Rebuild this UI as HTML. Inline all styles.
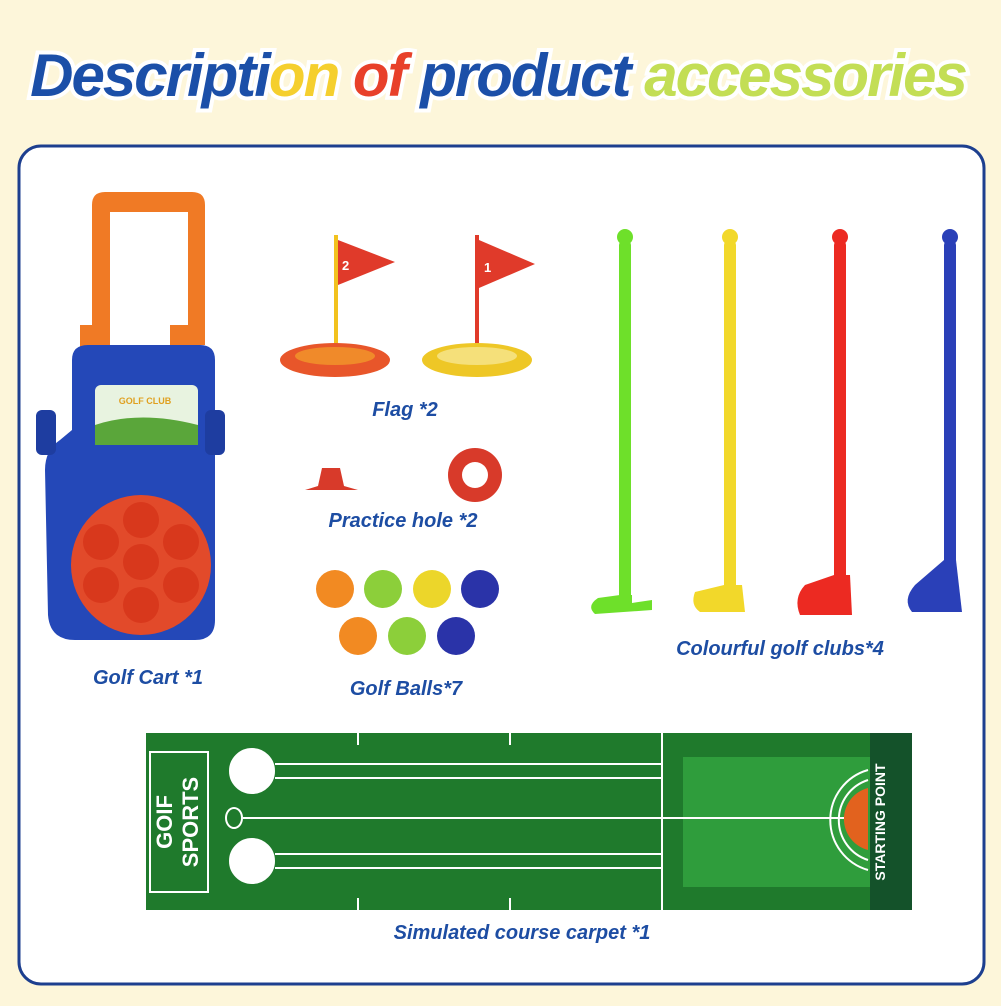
<!DOCTYPE html>
<html><head><meta charset="utf-8"><style>
body{margin:0;width:1001px;height:1001px;background:#fdf6da;overflow:hidden;font-family:"Liberation Sans",sans-serif}
</style></head><body>
<svg width="1001" height="1001" viewBox="0 0 1001 1001" xmlns="http://www.w3.org/2000/svg">
<rect width="1001" height="1001" fill="#fdf6da"/>
<text x="498" y="96" text-anchor="middle" font-family="Liberation Sans" font-weight="bold" font-style="italic" font-size="60" stroke="#fff" stroke-width="8" paint-order="stroke" letter-spacing="-2"><tspan fill="#1b4fa8">Descripti</tspan><tspan fill="#f5cf2e">on</tspan><tspan fill="#e8402a"> of</tspan><tspan fill="#1b4fa8"> product</tspan><tspan fill="#c3de55"> accessories</tspan></text>
<rect x="19" y="146" width="965" height="838" rx="22" fill="#fff" stroke="#1d3f8f" stroke-width="3"/>
<!-- cart -->
<path d="M92 345 V205 Q92 192 105 192 H192 Q205 192 205 205 V345 H188 V212 H110 V345Z" fill="#f07a25"/>
<rect x="80" y="325" width="30" height="25" fill="#f07a25"/><rect x="170" y="325" width="30" height="25" fill="#f07a25"/>
<path d="M72 360 Q72 345 88 345 H200 Q215 345 215 360 V620 Q215 640 195 640 H75 Q50 640 48 615 L45 470 Q45 450 60 440 L72 430Z" fill="#2448b8"/>
<rect x="36" y="410" width="20" height="45" rx="6" fill="#1e3da0"/>
<rect x="205" y="410" width="20" height="45" rx="6" fill="#1e3da0"/>
<rect x="95" y="385" width="103" height="60" rx="6" fill="#e8f3e0"/>
<path d="M95 425 Q140 410 198 425 V445 H95Z" fill="#5aa63a"/>
<text x="145" y="404" text-anchor="middle" font-size="9" font-weight="bold" fill="#e0a020">GOLF CLUB</text>
<circle cx="141" cy="565" r="70" fill="#e24a2a"/>
<g fill="#d8381c"><circle cx="141" cy="520" r="18"/><circle cx="181" cy="542" r="18"/><circle cx="181" cy="585" r="18"/><circle cx="141" cy="605" r="18"/><circle cx="101" cy="585" r="18"/><circle cx="101" cy="542" r="18"/><circle cx="141" cy="562" r="18"/></g>
<!-- flags -->
<rect x="334" y="235" width="4" height="115" fill="#f2c21e"/>
<path d="M338 240 L395 262 L338 285Z" fill="#e03a2a"/><text x="342" y="270" font-size="13" font-weight="bold" fill="#fff">2</text>
<ellipse cx="335" cy="360" rx="55" ry="17" fill="#e8562a"/><ellipse cx="335" cy="356" rx="40" ry="9" fill="#f08a2a"/>
<rect x="475" y="235" width="4" height="115" fill="#e03a2a"/>
<path d="M479 240 L535 264 L479 288Z" fill="#e03a2a"/><text x="484" y="272" font-size="13" font-weight="bold" fill="#fff">1</text>
<ellipse cx="477" cy="360" rx="55" ry="17" fill="#eec726"/><ellipse cx="477" cy="356" rx="40" ry="9" fill="#f5e07a"/>
<!-- practice hole -->
<path d="M322 468 H340 L344 486 L358 490 H305 L318 486Z" fill="#d83a2a"/>
<circle cx="475" cy="475" r="27" fill="#d83a2a"/><circle cx="475" cy="475" r="13" fill="#fff"/>
<!-- balls -->
<g><circle cx="335" cy="589" r="19" fill="#f28a22"/><circle cx="383" cy="589" r="19" fill="#8ccf3a"/><circle cx="432" cy="589" r="19" fill="#ecd62a"/><circle cx="480" cy="589" r="19" fill="#2a33a8"/>
<circle cx="358" cy="636" r="19" fill="#f28a22"/><circle cx="407" cy="636" r="19" fill="#8ccf3a"/><circle cx="456" cy="636" r="19" fill="#2a33a8"/></g>
<!-- clubs -->
<rect x="619" y="240" width="12" height="360" rx="5" fill="#6ee02a"/><circle cx="625" cy="237" r="8" fill="#6ee02a"/>
<path d="M620 595 L632 595 L632 603 L652 600 L652 610 L595 614 Q586 606 598 598Z" fill="#6ee02a"/>
<rect x="724" y="240" width="12" height="350" rx="5" fill="#f2d82a"/><circle cx="730" cy="237" r="8" fill="#f2d82a"/>
<path d="M724 585 H742 L745 612 H700 Q690 605 695 592Z" fill="#f2d82a"/>
<rect x="834" y="240" width="12" height="345" rx="5" fill="#ec2a22"/><circle cx="840" cy="237" r="8" fill="#ec2a22"/>
<path d="M834 575 H850 L852 615 H800 Q793 598 805 585Z" fill="#ec2a22"/>
<rect x="944" y="240" width="12" height="340" rx="5" fill="#2a40b8"/><circle cx="950" cy="237" r="8" fill="#2a40b8"/>
<path d="M944 560 H956 L962 612 H912 Q902 600 915 585Z" fill="#2a40b8"/>
<!-- carpet -->
<rect x="146" y="733" width="766" height="177" fill="#1f7a2c"/>
<rect x="683" y="757" width="187" height="130" fill="#2f9d3c"/>
<rect x="870" y="733" width="42" height="177" fill="#14522a"/>
<rect x="150" y="752" width="58" height="140" fill="none" stroke="#fff" stroke-width="2"/>
<text transform="translate(172 822) rotate(-90)" text-anchor="middle" font-size="22" font-weight="bold" fill="#fff">GOIF</text>
<text transform="translate(198 822) rotate(-90)" text-anchor="middle" font-size="22" font-weight="bold" fill="#fff">SPORTS</text>
<g stroke="#fff" stroke-width="2" fill="none">
<circle cx="252" cy="771" r="22" fill="#fff"/><circle cx="252" cy="861" r="22" fill="#fff"/>
<line x1="275" y1="764" x2="662" y2="764"/><line x1="275" y1="778" x2="662" y2="778"/>
<line x1="275" y1="854" x2="662" y2="854"/><line x1="275" y1="868" x2="662" y2="868"/>
<line x1="662" y1="760" x2="662" y2="782"/><line x1="662" y1="850" x2="662" y2="872"/>
<line x1="243" y1="818" x2="860" y2="818"/><ellipse cx="234" cy="818" rx="8" ry="10"/>
<line x1="358" y1="733" x2="358" y2="745"/><line x1="510" y1="733" x2="510" y2="745"/><line x1="662" y1="733" x2="662" y2="910"/>
<line x1="358" y1="898" x2="358" y2="910"/><line x1="510" y1="898" x2="510" y2="910"/>
<path d="M868 780 A42 42 0 0 0 868 860"/><path d="M868 770 A52 52 0 0 0 868 870"/>
</g>
<path d="M868 788 A32 32 0 0 0 868 850Z" fill="#e2621e"/>
<text transform="translate(885 822) rotate(-90)" text-anchor="middle" font-size="14" font-weight="bold" fill="#fff">STARTING POINT</text>
<g font-weight="bold" font-style="italic" font-size="20" fill="#1d4da3" text-anchor="middle">
<text x="148" y="684">Golf Cart *1</text><text x="405" y="416">Flag *2</text><text x="403" y="527">Practice hole *2</text>
<text x="406" y="695">Golf Balls*7</text><text x="780" y="655">Colourful golf clubs*4</text><text x="522" y="939">Simulated course carpet *1</text>
</g>
</svg>
</body></html>
